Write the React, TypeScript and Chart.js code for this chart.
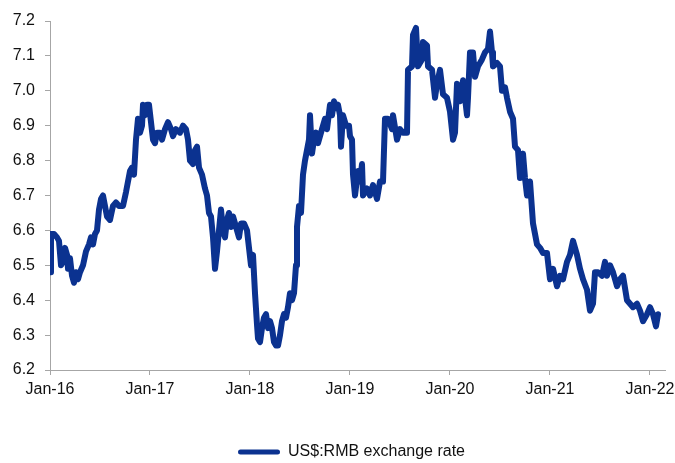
import React, { useEffect, useRef } from "react";
import { Chart, registerables } from "chart.js";

Chart.register(...registerables);

// Fractional year of each observation
const dates: number[] = [
  2016.0, 2016.01, 2016.04, 2016.07, 2016.09, 2016.11, 2016.13, 2016.15, 2016.17, 2016.18,
  2016.2, 2016.22, 2016.24, 2016.26, 2016.28, 2016.3, 2016.33, 2016.36, 2016.39, 2016.41,
  2016.43, 2016.45, 2016.47, 2016.49, 2016.51, 2016.53, 2016.55, 2016.57, 2016.6, 2016.63,
  2016.66, 2016.69, 2016.73, 2016.76, 2016.78, 2016.8, 2016.82, 2016.84, 2016.86, 2016.88,
  2016.9, 2016.92, 2016.93, 2016.95, 2016.97, 2016.99, 2017.01, 2017.03, 2017.05, 2017.07,
  2017.1, 2017.12, 2017.15, 2017.18, 2017.21, 2017.23, 2017.26, 2017.3, 2017.33, 2017.36,
  2017.38, 2017.4, 2017.43, 2017.45, 2017.47, 2017.49, 2017.52, 2017.55, 2017.57, 2017.59,
  2017.61, 2017.63, 2017.65, 2017.67, 2017.69, 2017.71, 2017.73, 2017.75, 2017.77, 2017.79,
  2017.81, 2017.83, 2017.85, 2017.87, 2017.89, 2017.91, 2017.94, 2017.97, 2017.99, 2018.01,
  2018.03, 2018.05, 2018.07, 2018.08, 2018.1, 2018.12, 2018.14, 2018.16, 2018.18, 2018.2,
  2018.22, 2018.24, 2018.26, 2018.28, 2018.3, 2018.32, 2018.34, 2018.36, 2018.38, 2018.4,
  2018.42, 2018.44, 2018.46, 2018.47, 2018.49, 2018.51, 2018.53, 2018.55, 2018.57, 2018.59,
  2018.6, 2018.62, 2018.64, 2018.66, 2018.68, 2018.7, 2018.72, 2018.75, 2018.77, 2018.8,
  2018.82, 2018.84, 2018.86, 2018.88, 2018.9, 2018.91, 2018.93, 2018.96, 2018.99, 2019.0,
  2019.02, 2019.03, 2019.05, 2019.08, 2019.1, 2019.12, 2019.13, 2019.17, 2019.2, 2019.23,
  2019.27, 2019.3, 2019.33, 2019.35, 2019.38, 2019.42, 2019.43, 2019.47, 2019.5, 2019.53,
  2019.57, 2019.58, 2019.62, 2019.63, 2019.66, 2019.68, 2019.72, 2019.73, 2019.77, 2019.78,
  2019.82, 2019.85, 2019.87, 2019.9, 2019.93, 2019.97, 2020.0, 2020.03, 2020.05, 2020.07,
  2020.1, 2020.13, 2020.17, 2020.18, 2020.2, 2020.23, 2020.25, 2020.28, 2020.32, 2020.35,
  2020.38, 2020.4, 2020.42, 2020.43, 2020.47, 2020.5, 2020.52, 2020.55, 2020.57, 2020.6,
  2020.63, 2020.65, 2020.68, 2020.7, 2020.73, 2020.75, 2020.77, 2020.8, 2020.82, 2020.83,
  2020.87, 2020.9, 2020.93, 2020.97, 2021.0, 2021.03, 2021.07, 2021.1, 2021.13, 2021.17,
  2021.2, 2021.23, 2021.27, 2021.3, 2021.33, 2021.37, 2021.4, 2021.43, 2021.45, 2021.48,
  2021.52, 2021.55, 2021.57, 2021.6, 2021.63, 2021.67, 2021.7, 2021.73, 2021.77, 2021.8,
  2021.83, 2021.87, 2021.9, 2021.93, 2021.97, 2022.0, 2022.03, 2022.06, 2022.08,
];

// US$:RMB exchange rate
const rates: number[] = [
  6.48, 6.59, 6.59, 6.58, 6.57, 6.5, 6.51, 6.55, 6.53, 6.49,
  6.52, 6.47, 6.45, 6.48, 6.46, 6.48, 6.5, 6.54, 6.56, 6.58,
  6.56, 6.59, 6.6, 6.66, 6.69, 6.7, 6.67, 6.64, 6.63, 6.67,
  6.68, 6.67, 6.67, 6.71, 6.74, 6.77, 6.78, 6.76, 6.86, 6.92,
  6.88, 6.9, 6.96, 6.93, 6.96, 6.96, 6.91, 6.86, 6.85, 6.88,
  6.88, 6.86, 6.89, 6.91, 6.89, 6.87, 6.89, 6.88, 6.9, 6.89,
  6.86, 6.8, 6.79, 6.83, 6.84, 6.78, 6.76, 6.72, 6.7, 6.65,
  6.64, 6.58, 6.49, 6.54, 6.6, 6.66, 6.6, 6.58, 6.63, 6.65,
  6.61, 6.64, 6.62, 6.6, 6.58, 6.62, 6.62, 6.6, 6.55, 6.5,
  6.53, 6.42, 6.33, 6.29, 6.28, 6.32, 6.35, 6.36, 6.32, 6.34,
  6.32, 6.28, 6.27, 6.27, 6.3, 6.34, 6.36, 6.35, 6.38, 6.42,
  6.4, 6.42, 6.5, 6.61, 6.67, 6.65, 6.76, 6.8, 6.83, 6.86,
  6.93, 6.82, 6.86, 6.88, 6.85, 6.87, 6.89, 6.92, 6.89, 6.96,
  6.93, 6.97, 6.95, 6.96, 6.93, 6.84, 6.93, 6.9, 6.9, 6.87,
  6.86, 6.76, 6.7, 6.77, 6.74, 6.79, 6.7, 6.72, 6.7, 6.73,
  6.69, 6.74, 6.74, 6.92, 6.92, 6.89, 6.93, 6.86, 6.89, 6.88,
  6.88, 7.06, 7.07, 7.16, 7.18, 7.07, 7.09, 7.14, 7.13, 7.07,
  7.06, 6.98, 7.02, 7.06, 6.99, 6.98, 6.94, 6.86, 6.88, 7.02,
  6.97, 7.03, 6.93, 6.98, 7.11, 7.11, 7.04, 7.07, 7.09, 7.11,
  7.12, 7.17, 7.11, 7.07, 7.08, 7.07, 7.0, 7.01, 6.98, 6.94,
  6.92, 6.84, 6.83, 6.75, 6.82, 6.75, 6.7, 6.74, 6.66, 6.62,
  6.56, 6.55, 6.535, 6.535, 6.46, 6.49, 6.44, 6.47, 6.46, 6.51,
  6.53, 6.57, 6.53, 6.49, 6.46, 6.43, 6.37, 6.39, 6.48, 6.48,
  6.47, 6.51, 6.47, 6.5, 6.48, 6.44, 6.46, 6.47, 6.4, 6.39,
  6.38, 6.39, 6.37, 6.34, 6.36, 6.38, 6.36, 6.325, 6.36,
];

const tickYears: number[] = [2016, 2017, 2018, 2019, 2020, 2021, 2022];
const tickLabels: string[] = ["Jan-16", "Jan-17", "Jan-18", "Jan-19", "Jan-20", "Jan-21", "Jan-22"];
const seriesLabel = "US$:RMB exchange rate";

const LINE_COLOR = "#0b3290";
const AXIS_COLOR = "#a6a6a6";
const FONT = { family: "Arial, 'Liberation Sans', sans-serif", size: 16 };

// shift the centred legend slightly to the right, as in the reference
const legendShift = {
  id: "legendShift",
  afterLayout(chart: any) {
    const l = chart.legend;
    if (l) {
      l.left += 15;
      l.right += 15;
    }
  },
};

export default function App() {
  const ref = useRef<HTMLCanvasElement | null>(null);

  useEffect(() => {
    if (!ref.current) return;
    const points = dates.map((d, i) => ({ x: d, y: rates[i] }));
    const chart = new Chart(ref.current, {
      type: "line",
      data: {
        datasets: [
          {
            label: seriesLabel,
            data: points,
            borderColor: LINE_COLOR,
            backgroundColor: LINE_COLOR,
            borderWidth: 6,
            borderJoinStyle: "round",
            borderCapStyle: "round",
            pointRadius: 0,
            tension: 0,
          },
        ],
      },
      plugins: [legendShift],
      options: {
        responsive: false,
        animation: false,
        layout: { padding: { left: 8, right: 10, top: 21, bottom: -7 } },
        plugins: {
          tooltip: { enabled: false },
          legend: {
            position: "bottom",
            labels: {
              boxWidth: 42,
              boxHeight: 5,
              padding: 10,
              color: "#111",
              font: FONT,
              useBorderRadius: true,
              borderRadius: 2.5,
              generateLabels: (c: any) =>
                c.data.datasets.map((ds: any, i: number) => ({
                  text: ds.label,
                  fillStyle: ds.borderColor,
                  strokeStyle: ds.borderColor,
                  lineWidth: 0,
                  hidden: false,
                  datasetIndex: i,
                  borderRadius: 2.5,
                  fontColor: "#111",
                })),
            },
          },
        },
        scales: {
          x: {
            type: "linear",
            min: 2016,
            max: 2022.15,
            afterBuildTicks: (s: any) => {
              s.ticks = tickYears.map((v) => ({ value: v }));
            },
            afterFit: (s: any) => {
              s.height = 64;
              s.paddingLeft = 0;
              s.paddingRight = 0;
            },
            ticks: {
              autoSkip: false,
              maxRotation: 0,
              padding: 5,
              color: "#111",
              font: FONT,
              callback: (v: any) => {
                const idx = tickYears.indexOf(Number(v));
                return idx >= 0 ? tickLabels[idx] : "";
              },
            },
            grid: { drawOnChartArea: false, drawTicks: true, tickLength: 5, color: AXIS_COLOR },
            border: { color: AXIS_COLOR, width: 1 },
          },
          y: {
            min: 6.2,
            max: 7.2,
            afterFit: (s: any) => {
              s.width = 42;
              s.paddingTop = 0;
              s.paddingBottom = 0;
            },
            ticks: {
              stepSize: 0.1,
              padding: 10,
              color: "#111",
              font: FONT,
              callback: (v: any) => Number(v).toFixed(1),
            },
            grid: { drawOnChartArea: false, drawTicks: true, tickLength: 5, color: AXIS_COLOR },
            border: { color: AXIS_COLOR, width: 1 },
          },
        },
      },
    });
    return () => chart.destroy();
  }, []);

  return (
    <div style={{ position: "absolute", left: 0, top: 0, width: 675, height: 463, background: "#fff" }}>
      <canvas ref={ref} width={675} height={463} style={{ width: 675, height: 463 }} />
    </div>
  );
}
